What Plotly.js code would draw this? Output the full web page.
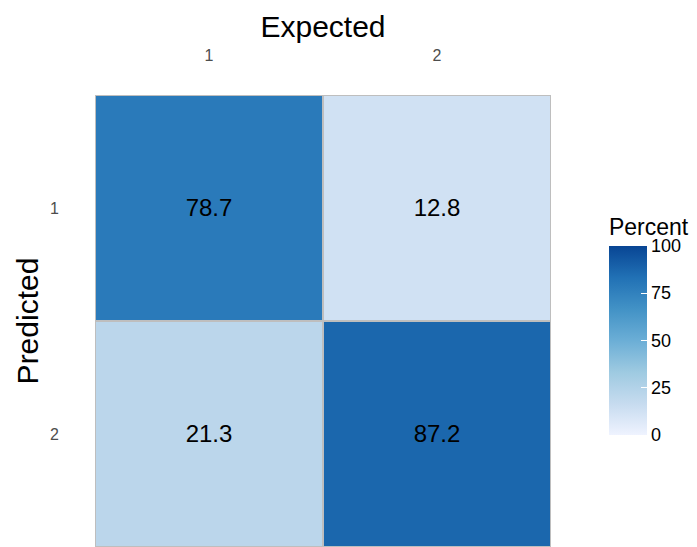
<!DOCTYPE html>
<html>
<head>
<meta charset="utf-8">
<script src="https://cdn.plot.ly/plotly-3.0.1.min.js"></script>
<style>html,body{margin:0;padding:0;background:#fff}#chart{width:697px;height:547px}</style>
</head>
<body>
<div id="chart"></div>
<script>
const expected = ["1", "2"];
const predicted = ["1", "2"];
// rows = predicted, columns = expected
const percent = [
  [78.7, 12.8],
  [21.3, 87.2]
];
const colorbarTicks = [0, 25, 50, 75, 100];
const blues = [
  [0, "#EFF3FF"], [1/6, "#C6DBEF"], [2/6, "#9ECAE1"], [3/6, "#6BAED6"],
  [4/6, "#4292C6"], [5/6, "#2171B5"], [1, "#084594"]
];
const trace = {
  type: "heatmap",
  x: expected,
  y: predicted,
  z: percent,
  zmin: 0, zmax: 100,
  colorscale: blues,
  xgap: 2, ygap: 2,
  texttemplate: "%{z:.1f}",
  textfont: {family: "Liberation Sans, Arial, sans-serif", size: 24, color: "#000"},
  hoverinfo: "skip",
  colorbar: {
    title: {text: "Percent", side: "top", font: {size: 23, color: "#000"}},
    x: 1.127, xanchor: "left", xref: "paper",
    y: 0.248, yanchor: "bottom",
    thickness: 38, thicknessmode: "pixels",
    len: 220, lenmode: "pixels",
    outlinewidth: 0,
    tickvals: colorbarTicks,
    ticks: "inside", ticklen: 6, tickcolor: "#fff", tickwidth: 1,
    tickfont: {size: 18, color: "#000"},
    ypad: 0, xpad: 0
  }
};
const layout = {
  width: 697, height: 547,
  margin: {l: 95, r: 146, t: 95, b: 0},
  paper_bgcolor: "#fff",
  plot_bgcolor: "#BEBEBE",
  font: {family: "Liberation Sans, Arial, sans-serif"},
  xaxis: {
    side: "top", type: "category",
    title: {text: "Expected", font: {size: 30, color: "#000"}, standoff: 0},
    tickfont: {size: 16, color: "#4D4D4D"},
    ticks: "", showgrid: false, zeroline: false,
    ticklabelstandoff: 30
  },
  yaxis: {
    type: "category", autorange: "reversed",
    title: {text: "Predicted", font: {size: 30, color: "#000"}, standoff: 2},
    tickfont: {size: 16, color: "#4D4D4D"},
    ticks: "", showgrid: false, zeroline: false,
    ticklabelstandoff: 35
  }
};
Plotly.newPlot("chart", [trace], layout, {displayModeBar: false, staticPlot: true});
</script>
</body>
</html>
